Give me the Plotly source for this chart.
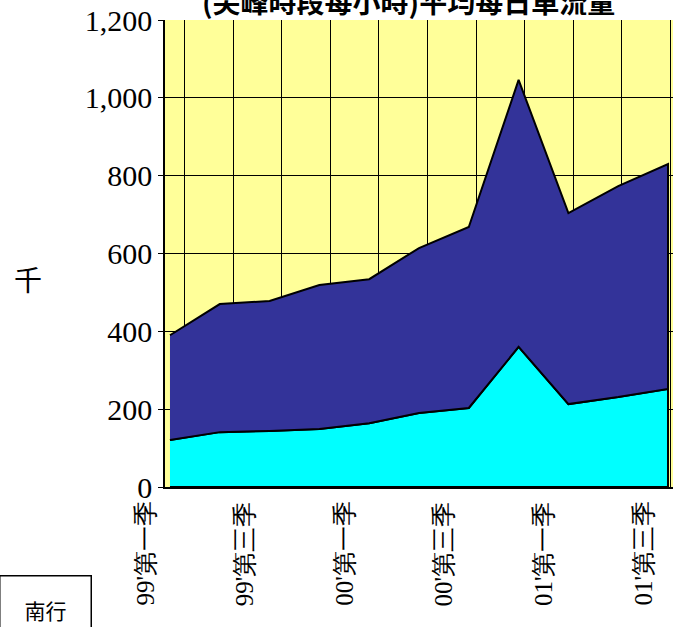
import plotly.graph_objects as go

# Quarterly average daily traffic (thousand vehicles), southbound
quarters = ["99'第一季", "99'第二季", "99'第三季", "99'第四季",
            "00'第一季", "00'第二季", "00'第三季", "00'第四季",
            "01'第一季", "01'第二季", "01'第三季"]
lower_series = [121, 141, 144, 149, 164, 190, 203, 360, 213, 231, 252]
total_series = [390, 470, 478, 519, 534, 614, 668, 1046, 704, 773, 830]
labelled_quarters = ["99'第一季", "99'第三季", "00'第一季",
                     "00'第三季", "01'第一季", "01'第三季"]
y_ticks = [0, 200, 400, 600, 800, 1000, 1200]

idx = list(range(len(quarters)))
rev = idx[::-1]

serif = "Times New Roman, Liberation Serif, Tinos, serif"
cjk = "Noto Sans CJK TC, sans-serif"

X_RANGE = [-0.1, 10.1]

fig = go.Figure()

# lower band (cyan) as a closed outline down to zero
fig.add_trace(go.Scatter(
    x=idx + rev,
    y=lower_series + [0] * len(idx),
    fill="toself", fillcolor="#00FFFF",
    mode="lines", line=dict(color="black", width=2),
    hoverinfo="skip",
))

# upper band (navy) stacked between lower series and total
fig.add_trace(go.Scatter(
    x=idx + rev,
    y=total_series + lower_series[::-1],
    fill="toself", fillcolor="#333399",
    mode="lines", line=dict(color="black", width=2),
    hoverinfo="skip",
))

# empty trace that carries the back-wall category grid axis
fig.add_trace(go.Scatter(x=[None], y=[None], xaxis="x2", yaxis="y",
                         showlegend=False, hoverinfo="skip"))


def to_paper(v):
    """Convert a category position on the x axis to paper coordinates."""
    return (v - X_RANGE[0]) / (X_RANGE[1] - X_RANGE[0])


# category labels sit slightly left of their points (perspective floor)
label_shift = -0.5
category_labels = [
    dict(text=q, xref="paper", yref="paper",
         x=to_paper(quarters.index(q) + label_shift), y=0, yshift=-12,
         xanchor="center", yanchor="top", textangle=-90,
         showarrow=False,
         font=dict(family=serif, size=25, color="black"))
    for q in labelled_quarters
]

fig.update_layout(
    width=673, height=627,
    margin=dict(l=165, r=0, t=20, b=140),
    paper_bgcolor="white",
    plot_bgcolor="#FFFF99",
    showlegend=False,
    xaxis=dict(
        range=X_RANGE,
        showgrid=False, zeroline=False,
        showline=True, linecolor="black", linewidth=1.5,
        showticklabels=False, ticks="",
    ),
    xaxis2=dict(
        overlaying="x",
        range=[-0.41, 10.06],
        tickmode="linear", tick0=0, dtick=1,
        showgrid=True, gridcolor="black", gridwidth=1.2,
        showticklabels=False, ticks="", zeroline=False, showline=False,
    ),
    yaxis=dict(
        range=[0, 1200],
        tickmode="array", tickvals=y_ticks,
        tickformat=",d",
        showgrid=True, gridcolor="black", gridwidth=1,
        zeroline=False,
        showline=True, linecolor="black", linewidth=1.5,
        ticks="outside", ticklen=5, tickcolor="black",
        tickfont=dict(family=serif, size=30, color="black"),
    ),
    annotations=category_labels + [
        dict(text="<b>(尖峰時段每小時)平均每日車流量</b>", xref="paper", yref="paper",
             x=0.48, y=0.994, xanchor="center", yanchor="bottom",
             showarrow=False,
             font=dict(family=cjk, size=28, color="black")),
        dict(text="千", xref="paper", yref="paper",
             x=-0.27, y=0.445, xanchor="center", yanchor="middle",
             showarrow=False,
             font=dict(family=cjk, size=28, color="black")),
        dict(text="南行", xref="paper", yref="paper",
             x=-0.1437, y=-0.1884, xanchor="right", yanchor="top",
             showarrow=False, width=90, height=66, valign="middle",
             bordercolor="black", borderwidth=1.5, borderpad=0,
             bgcolor="white",
             font=dict(family=cjk, size=21, color="black")),
    ],
)

fig.write_html("out.html")
